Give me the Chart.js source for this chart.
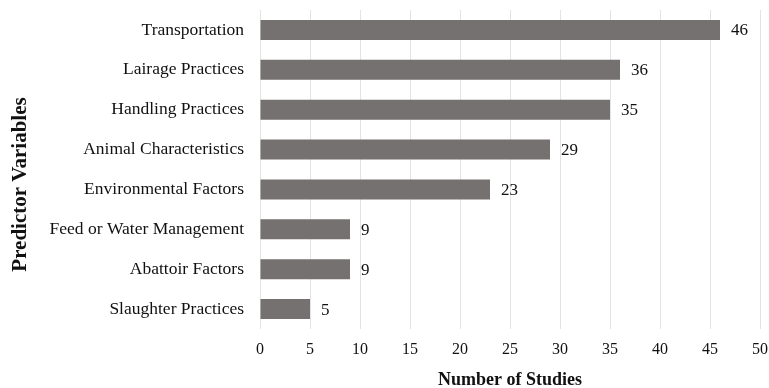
<!DOCTYPE html>
<html>
<head>
<meta charset="utf-8">
<script src="https://cdn.jsdelivr.net/npm/chart.js@4/dist/chart.umd.min.js"></script>
<style>
html,body{margin:0;padding:0;background:#fff;}
#wrap{width:769px;height:388px;}
</style>
</head>
<body>
<div id="wrap"><canvas id="c" width="769" height="388"></canvas></div>
<script>
const categories = ["Transportation","Lairage Practices","Handling Practices","Animal Characteristics","Environmental Factors","Feed or Water Management","Abattoir Factors","Slaughter Practices"];
const studies = [46,36,35,29,23,9,9,5];
const xTitle = "Number of Studies";
const yTitle = "Predictor Variables";

const FONT = "'Liberation Serif','Times New Roman',serif";

const labelPlugin = {
  id: 'valueLabels',
  afterDatasetsDraw(chart) {
    const ctx = chart.ctx;
    const meta = chart.getDatasetMeta(0);
    ctx.save();
    ctx.font = "17px " + FONT;
    ctx.fillStyle = "#111";
    ctx.textAlign = "left";
    ctx.textBaseline = "middle";
    meta.data.forEach((bar, i) => {
      ctx.fillText(String(studies[i]), bar.x + 11, bar.y + 1);
    });
    // y axis title (placed slightly below the plot centre, as in the reference)
    const area = chart.chartArea;
    ctx.font = "bold 21px " + FONT;
    ctx.textAlign = "center";
    ctx.textBaseline = "middle";
    ctx.translate(21, (area.top + area.bottom) / 2 + 15);
    ctx.rotate(-Math.PI / 2);
    ctx.fillText(yTitle, 0, 0);
    ctx.restore();
  }
};

new Chart(document.getElementById('c'), {
  type: 'bar',
  data: {
    labels: categories,
    datasets: [{
      data: studies,
      backgroundColor: '#767171',
      borderWidth: 0,
      barPercentage: 0.5,
      categoryPercentage: 1.0
    }]
  },
  options: {
    indexAxis: 'y',
    responsive: false,
    animation: false,
    devicePixelRatio: 1,
    layout: { padding: { top: 10, right: 9, bottom: 0, left: 0 } },
    plugins: { legend: { display: false }, tooltip: { enabled: false } },
    scales: {
      x: {
        min: 0, max: 50,
        afterFit(scale) { scale.height = 59; scale.paddingLeft = 0; scale.paddingRight = 0; },
        ticks: { stepSize: 5, color: '#111', font: { family: FONT, size: 16 }, padding: 11 },
        grid: { color: '#e3e3e6', drawTicks: false, lineWidth: 1 },
        border: { display: false },
        title: { display: true, text: xTitle, color: '#111', font: { family: FONT, size: 18, weight: 'bold', lineHeight: 1 }, padding: { top: 13, bottom: -1 } }
      },
      y: {
        afterFit(scale) { scale.width = 260; scale.paddingTop = 0; scale.paddingBottom = 0; },
        ticks: { color: '#111', font: { family: FONT, size: 17.5 }, padding: 16 },
        grid: { display: false, drawTicks: false },
        border: { display: false },
        title: { display: false, text: yTitle }
      }
    }
  },
  plugins: [labelPlugin]
});
</script>
</body>
</html>
